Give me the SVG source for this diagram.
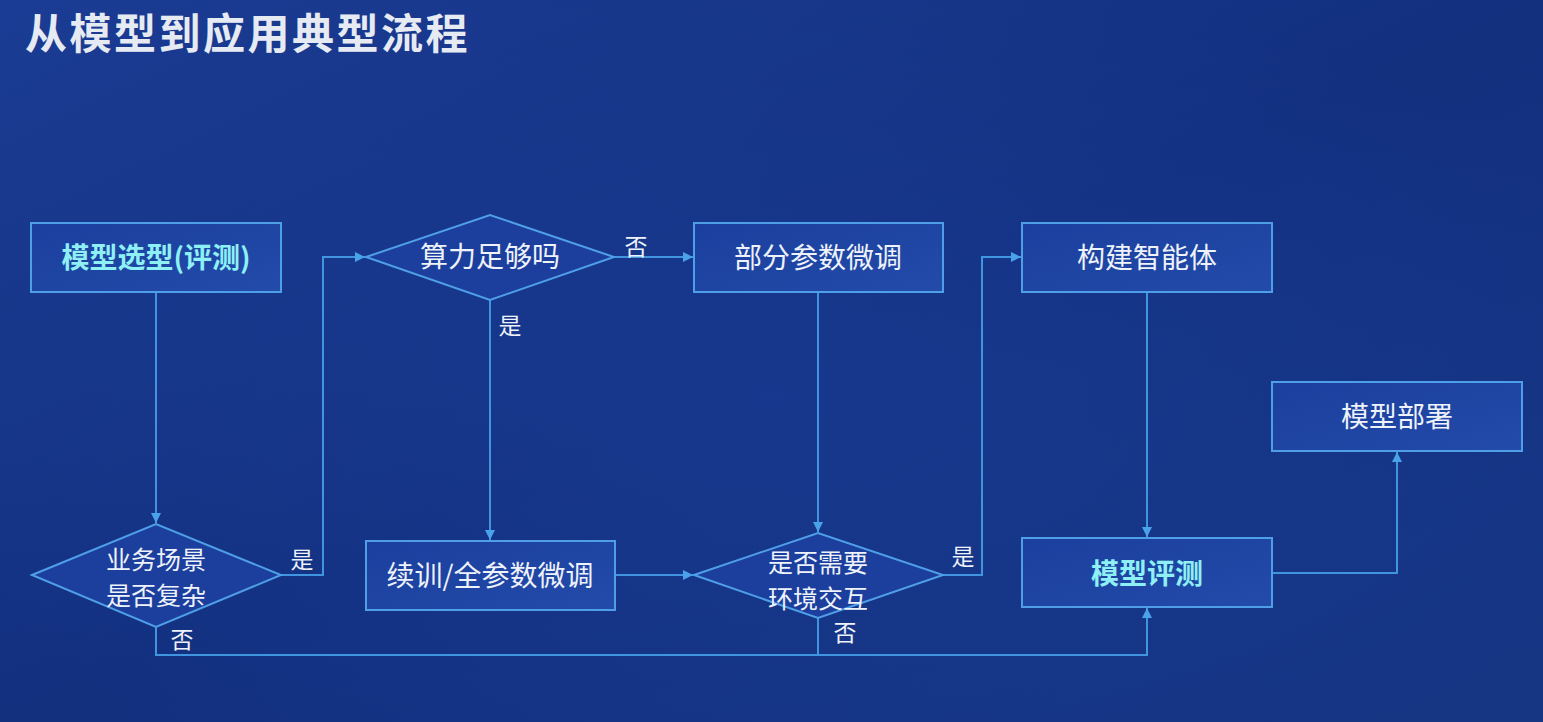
<svg xmlns="http://www.w3.org/2000/svg" width="1543" height="722" viewBox="0 0 1543 722">
<defs>
<linearGradient id="bg" x1="0" y1="0" x2="1" y2="1">
<stop offset="0" stop-color="#1b3c94"/>
<stop offset="0.5" stop-color="#13307f"/>
<stop offset="1" stop-color="#163684"/>
</linearGradient>
<radialGradient id="glow" cx="0.5" cy="0.55" r="0.6">
<stop offset="0" stop-color="#1a3d98" stop-opacity="0.6"/>
<stop offset="1" stop-color="#1a3d98" stop-opacity="0"/>
</radialGradient>
<linearGradient id="boxfill" x1="0" y1="0" x2="1" y2="1">
<stop offset="0" stop-color="#1b3f9e"/>
<stop offset="1" stop-color="#234ba9"/>
</linearGradient>
<marker id="arr" viewBox="0 0 10 10" refX="10" refY="5" markerWidth="10" markerHeight="10" markerUnits="userSpaceOnUse" orient="auto">
<path d="M0,0 L10,5 L0,10 z" fill="#4aa3ea"/>
</marker>
<style>
.box{fill:url(#boxfill);stroke:#4f9fe8;stroke-width:2}
.dia{fill:#1c3f9d;stroke:#4f9fe8;stroke-width:2}
.t{font-family:"Noto Sans CJK SC","Noto Sans",sans-serif;font-size:28px;fill:#eef2fa;text-anchor:middle}
.td{font-family:"Noto Sans CJK SC","Noto Sans",sans-serif;font-size:25px;fill:#eef2fa;text-anchor:middle}
.tc{font-family:"Noto Sans CJK SC","Noto Sans",sans-serif;font-size:28px;font-weight:bold;fill:#8ef0f4;text-anchor:middle}
.lb{font-family:"Noto Sans CJK SC","Noto Sans",sans-serif;font-size:23px;fill:#eef2fa;text-anchor:middle}
.c{fill:none;stroke:#3f95e0;stroke-width:2}
</style>
</defs>
<rect width="1543" height="722" fill="url(#bg)"/>
<rect width="1543" height="722" fill="url(#glow)"/>
<text x="25" y="49" font-family="'Noto Sans CJK SC',sans-serif" font-size="42" font-weight="bold" letter-spacing="2.5" fill="#e6eaf2">从模型到应用典型流程</text>

<g id="connectors">
<path class="c" d="M156,292 V523" marker-end="url(#arr)"/>
<path class="c" d="M281,575 H323 V257 H365" marker-end="url(#arr)"/>
<path class="c" d="M490,300 V540" marker-end="url(#arr)"/>
<path class="c" d="M614,257 H693" marker-end="url(#arr)"/>
<path class="c" d="M818,292 V532" marker-end="url(#arr)"/>
<path class="c" d="M615,575 H693" marker-end="url(#arr)"/>
<path class="c" d="M943,575 H982 V257 H1021" marker-end="url(#arr)"/>
<path class="c" d="M1147,292 V537" marker-end="url(#arr)"/>
<path class="c" d="M156,627 V655 H1147 V608" marker-end="url(#arr)"/>
<path class="c" d="M818,618 V655"/>
<path class="c" d="M1272,573 H1397 V452" marker-end="url(#arr)"/>
<text class="lb" x="302" y="568">是</text>
<text class="lb" x="510" y="334">是</text>
<text class="lb" x="636" y="255">否</text>
<text class="lb" x="963" y="565">是</text>
<text class="lb" x="182" y="648">否</text>
<text class="lb" x="845" y="641">否</text>
</g>

<g id="n1"><rect class="box" x="31" y="223" width="250" height="69"/><text class="tc" x="156" y="268">模型选型(评测)</text></g>
<g id="n2"><polygon class="dia" points="366,257 490,215 614,257 490,300"/><text class="t" x="490" y="267">算力足够吗</text></g>
<g id="n3"><rect class="box" x="694" y="223" width="249" height="69"/><text class="t" x="818" y="268">部分参数微调</text></g>
<g id="n4"><rect class="box" x="1022" y="223" width="250" height="69"/><text class="t" x="1147" y="268">构建智能体</text></g>
<g id="n5"><rect class="box" x="1272" y="382" width="250" height="69"/><text class="t" x="1397" y="427">模型部署</text></g>
<g id="n6"><polygon class="dia" points="32,575 156,524 281,575 156,627"/><text class="td"><tspan x="156" y="569">业务场景</tspan><tspan x="156" y="605">是否复杂</tspan></text></g>
<g id="n7"><rect class="box" x="366" y="541" width="249" height="69"/><text class="t" x="490" y="586">续训/全参数微调</text></g>
<g id="n8"><polygon class="dia" points="694,575 818,533 943,575 818,618"/><text class="td"><tspan x="818" y="572">是否需要</tspan><tspan x="818" y="608">环境交互</tspan></text></g>
<g id="n9"><rect class="box" x="1022" y="538" width="250" height="69"/><text class="tc" x="1147" y="584">模型评测</text></g>
</svg>
